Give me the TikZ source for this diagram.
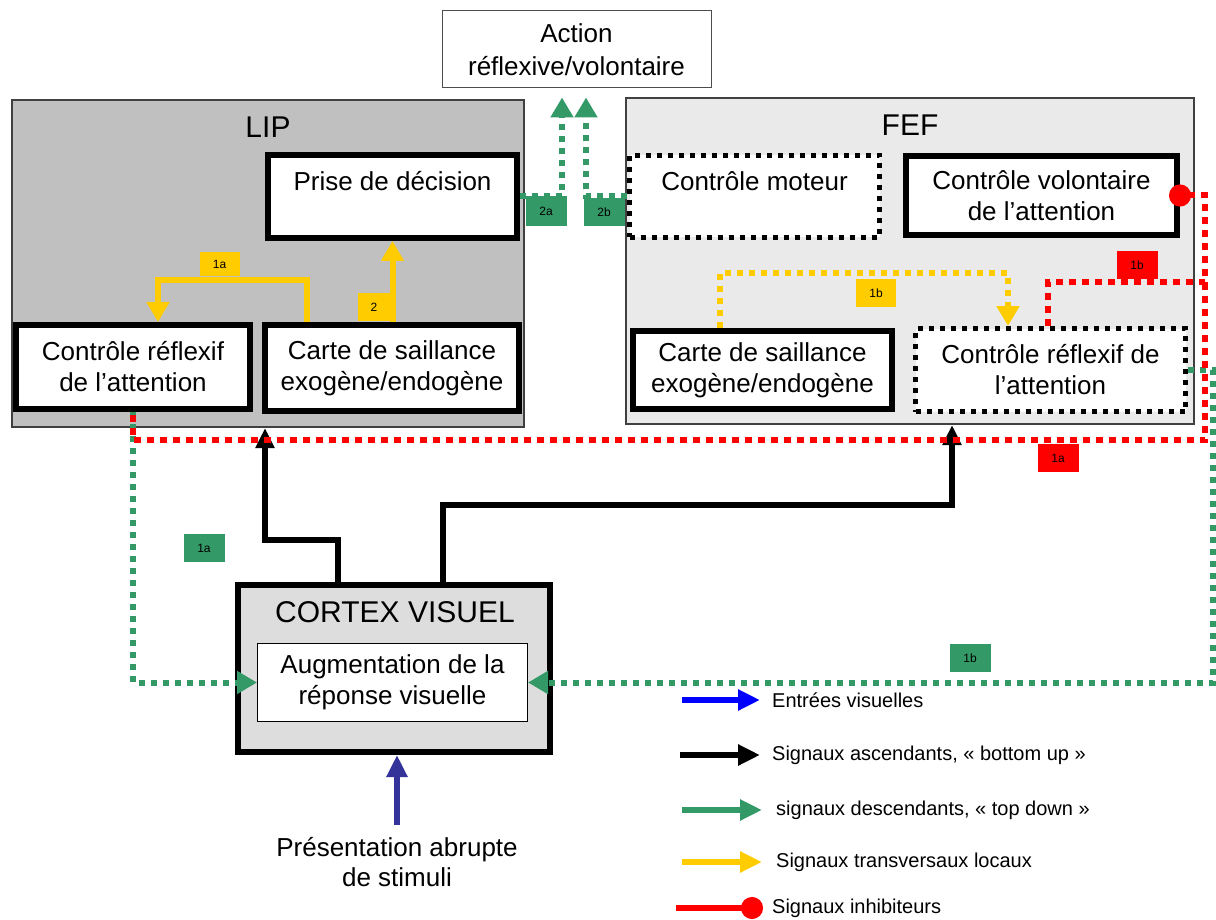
\documentclass[tikz,border=0pt]{standalone}
\usepackage{fontspec}
\setmainfont{Liberation Sans}
\usetikzlibrary{arrows.meta}
\definecolor{lipgris}{RGB}{192, 192, 192}
\definecolor{fefgris}{RGB}{234, 234, 234}
\definecolor{cvgris}{RGB}{221, 221, 221}
\definecolor{vert}{RGB}{51, 153, 102}
\definecolor{jaune}{RGB}{255, 204, 0}
\definecolor{rouge}{RGB}{255, 0, 0}
\definecolor{bleu}{RGB}{0, 0, 255}
\definecolor{indigo}{RGB}{51, 51, 153}

\begin{document}
\begin{tikzpicture}[x=1pt, y=-1pt,
        zone/.style={draw=black!75, line width=2pt, inner sep=0pt},
        bloc/.style={draw, line width=6pt, fill=white, align=center,
                     font=\fontsize{26}{31}\selectfont, inner sep=0pt},
        blocpt/.style={bloc, line width=5pt, dash pattern=on 5pt off 6pt},
        titre/.style={font=\fontsize{30}{34}\selectfont},
        etiq/.style={font=\fontsize{12}{14}\selectfont, inner sep=0pt,
                     minimum width=41pt, minimum height=28pt},
        legende/.style={font=\fontsize{20}{23}\selectfont, anchor=west, inner sep=0pt},
        monte/.style={line width=6pt, -{Triangle[width=18pt, length=20pt]}},
        descend/.style={vert, line width=6pt, dash pattern=on 6pt off 6pt,
                        -{Triangle[width=22pt, length=20pt]}},
        transv/.style={jaune, line width=6pt, -{Triangle[width=22pt, length=20pt]}},
        inhib/.style={rouge, line width=6pt, dash pattern=on 7pt off 6pt}
    ]

    \fill[white] (0, 0) rectangle (1216, 920);

    % aires corticales
    \node[zone, fill=lipgris, minimum width=512pt, minimum height=327pt] (lip) at (268, 263.5) {};
    \node[titre] at (268, 127) {LIP};
    \node[zone, fill=fefgris, minimum width=568pt, minimum height=326pt] (fef) at (910, 261) {};
    \node[titre] at (910, 125) {FEF};

    \node[draw=black!70, line width=1pt, align=center, font=\fontsize{26}{33}\selectfont,
          minimum width=269pt, minimum height=77pt] (action) at (576.5, 49.5)
        {Action\\réflexive/volontaire};

    \node[bloc, minimum width=249pt, minimum height=83pt] (decision) at (392.5, 196.5)
        {Prise de décision\\~};
    \node[bloc, minimum width=234pt, minimum height=84pt] (reflexL) at (133, 367)
        {Contrôle réflexif\\de l’attention};
    \node[bloc, minimum width=254pt, minimum height=86pt] (carteL) at (392, 368)
        {Carte de saillance\\exogène/endogène};

    \node[blocpt, minimum width=250pt, minimum height=82pt] (moteur) at (754.5, 196.5)
        {Contrôle moteur\\~};
    \node[bloc, minimum width=271pt, minimum height=79pt] (volont) at (1041.5, 195.5)
        {Contrôle volontaire\\de l’attention};
    \node[bloc, minimum width=259pt, minimum height=78pt] (carteF) at (762.5, 370)
        {Carte de saillance\\exogène/endogène};
    \node[blocpt, minimum width=270pt, minimum height=83pt] (reflexF) at (1050.5, 370)
        {Contrôle réflexif de\\l’attention};

    \node[bloc, fill=cvgris, minimum width=312pt, minimum height=167pt] (cortex) at (394, 668.5) {};
    \node[titre] at (395, 612) {CORTEX VISUEL};
    \node[bloc, line width=1pt, minimum width=270pt, minimum height=78pt] (augm) at (392.5, 682.5)
        {Augmentation de la\\réponse visuelle};

    \node[align=center, font=\fontsize{26}{30}\selectfont, inner sep=2pt] (stimuli) at (397, 862)
        {Présentation abrupte\\de stimuli};

    % signaux ascendants
    \draw[indigo, monte, -{Triangle[width=20pt, length=22pt]}]
        ([yshift=10pt]stimuli.north) -- (stimuli.north |- cortex.south);
    \draw[monte] ([xshift=-56pt]cortex.north) -- ++(0, -42) -| ([xshift=-3pt]lip.south);
    \draw[monte] ([xshift=49pt]cortex.north) -- ++(0, -77) -| ([xshift=42pt]fef.south);

    % signaux transversaux
    \draw[transv] ([xshift=45pt]carteL.north west) -- ++(0, -42) -| ([xshift=25pt]reflexL.north);
    \draw[transv] (carteL.north -| decision.south) -- (decision.south);
    \draw[transv, dash pattern=on 6pt off 6pt]
        ([xshift=-42.5pt]carteF.north) -- ++(0, -55) -| ([xshift=-42.5pt]reflexF.north);

    % signaux descendants
    \draw[descend] (decision.east) -| ([xshift=-14.5pt, yshift=-9pt]action.south);
    \draw[descend] (moteur.west) -| ([xshift=9.5pt, yshift=-9pt]action.south);
    \draw[descend] (reflexL.south) |- (augm.west);
    \draw[descend] (reflexF.east) -- ++(25, 0) |- (augm.east);

    % signaux inhibiteurs
    \draw[inhib, {Circle[length=22pt]}-, shorten <=-11pt]
        (volont.east) -- ++(25, 0) |- ([yshift=-28pt]reflexL.south) -- (reflexL.south);
    \draw[inhib] ([xshift=-2.5pt]reflexF.north) -- ++(0, -44) -- ++(157, 0);

    % etiquettes
    \node[etiq, fill=jaune, minimum width=40pt, minimum height=24pt] (j1a) at (219.5, 264.5) {1a};
    \node[etiq, fill=jaune, minimum width=32pt] (j2) at (374, 307) {2};
    \node[etiq, fill=jaune, minimum width=40pt, minimum height=27pt] (j1b) at (876, 293) {1b};
    \node[etiq, fill=rouge] (r1b) at (1137, 265) {1b};
    \node[etiq, fill=rouge] (r1a) at (1058, 458) {1a};
    \node[etiq, fill=vert] (v1a) at (204, 548) {1a};
    \node[etiq, fill=vert] (v1b) at (970, 658) {1b};
    \node[etiq, fill=vert, minimum height=30pt] (v2a) at (546, 211) {2a};
    \node[etiq, fill=vert] (v2b) at (604, 212) {2b};

    % legende
    \node[legende] (leg1) at (772, 700) {Entrées visuelles};
    \node[legende] (leg2) at (772, 755) {Signaux ascendants, « bottom up »};
    \node[legende] (leg3) at (776, 810) {signaux descendants, « top down »};
    \node[legende] (leg4) at (776, 862) {Signaux transversaux locaux};
    \node[legende] (leg5) at (772, 908) {Signaux inhibiteurs};

    \draw[bleu, monte, -{Triangle[width=20pt, length=22pt]}] ([xshift=-90pt]leg1.west) -- ([xshift=-12pt]leg1.west);
    \draw[monte, -{Triangle[width=20pt, length=22pt]}] ([xshift=-92pt]leg2.west) -- ([xshift=-12pt]leg2.west);
    \draw[vert, monte, -{Triangle[width=20pt, length=22pt]}] ([xshift=-94pt]leg3.west) -- ([xshift=-14pt]leg3.west);
    \draw[jaune, monte, -{Triangle[width=20pt, length=22pt]}] ([xshift=-94pt]leg4.west) -- ([xshift=-14pt]leg4.west);
    \draw[rouge, line width=6pt, -{Circle[length=22pt]}] ([xshift=-96pt]leg5.west) -- ([xshift=-9pt]leg5.west);

\end{tikzpicture}
\end{document}
